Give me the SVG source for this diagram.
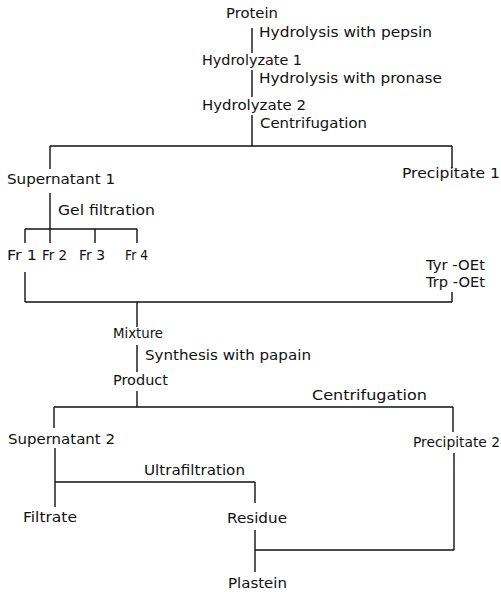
<svg xmlns="http://www.w3.org/2000/svg" width="501" height="592" viewBox="0 0 501 592">
<style>
text{font-family:"DejaVu Sans","Liberation Sans",sans-serif;font-size:14px;fill:#111}
.c line{stroke:#111;stroke-width:1.4;fill:none}
</style>
<rect width="501" height="592" fill="#fff"/>
<g class="c" id="connectors">
<line x1="252" y1="28" x2="252" y2="53"/>
<line x1="252" y1="70" x2="252" y2="97"/>
<line x1="252" y1="115" x2="252" y2="146"/>
<line x1="50" y1="146" x2="452" y2="146"/>
<line x1="50" y1="146" x2="50" y2="169"/>
<line x1="452" y1="146" x2="452" y2="168"/>
<line x1="50" y1="193" x2="50" y2="243"/>
<line x1="25" y1="229" x2="137" y2="229"/>
<line x1="25" y1="229" x2="25" y2="243"/>
<line x1="95" y1="229" x2="95" y2="243"/>
<line x1="137" y1="229" x2="137" y2="243"/>
<line x1="25" y1="272" x2="25" y2="302"/>
<line x1="25" y1="302" x2="452" y2="302"/>
<line x1="452" y1="292" x2="452" y2="302"/>
<line x1="137" y1="302" x2="137" y2="327"/>
<line x1="137" y1="345" x2="137" y2="372"/>
<line x1="137" y1="391" x2="137" y2="407"/>
<line x1="54" y1="407" x2="453" y2="407"/>
<line x1="54" y1="407" x2="54" y2="428"/>
<line x1="453" y1="407" x2="453" y2="432"/>
<line x1="55" y1="448" x2="55" y2="507"/>
<line x1="55" y1="482" x2="255" y2="482"/>
<line x1="255" y1="482" x2="255" y2="503"/>
<line x1="255" y1="530" x2="255" y2="572"/>
<line x1="255" y1="550" x2="454" y2="550"/>
<line x1="454" y1="453" x2="454" y2="550"/>
</g>
<g id="protein"><text x="226" y="18" textLength="52" lengthAdjust="spacingAndGlyphs">Protein</text></g>
<g id="step-pepsin"><text x="259" y="37" textLength="173" lengthAdjust="spacingAndGlyphs">Hydrolysis with pepsin</text></g>
<g id="hydrolyzate1"><text x="202" y="65" textLength="100" lengthAdjust="spacingAndGlyphs">Hydrolyzate 1</text></g>
<g id="step-pronase"><text x="259" y="83" textLength="183" lengthAdjust="spacingAndGlyphs">Hydrolysis with pronase</text></g>
<g id="hydrolyzate2"><text x="202" y="110" textLength="104" lengthAdjust="spacingAndGlyphs">Hydrolyzate 2</text></g>
<g id="step-centrifugation1"><text x="260" y="128" textLength="107" lengthAdjust="spacingAndGlyphs">Centrifugation</text></g>
<g id="supernatant1"><text x="7" y="184" textLength="108" lengthAdjust="spacingAndGlyphs">Supernatant 1</text></g>
<g id="precipitate1"><text x="402" y="178" textLength="98" lengthAdjust="spacingAndGlyphs">Precipitate 1</text></g>
<g id="step-gel"><text x="58" y="215" textLength="97" lengthAdjust="spacingAndGlyphs">Gel filtration</text></g>
<g id="fr1"><text x="7" y="260" textLength="30" lengthAdjust="spacingAndGlyphs">Fr 1</text></g>
<g id="fr2"><text x="42" y="260" textLength="25" lengthAdjust="spacingAndGlyphs">Fr 2</text></g>
<g id="fr3"><text x="79" y="260" textLength="26" lengthAdjust="spacingAndGlyphs">Fr 3</text></g>
<g id="fr4"><text x="125" y="260" textLength="23" lengthAdjust="spacingAndGlyphs">Fr 4</text></g>
<g id="esters"><text x="426" y="270" textLength="59" lengthAdjust="spacingAndGlyphs">Tyr -OEt</text><text x="426" y="287" textLength="59" lengthAdjust="spacingAndGlyphs">Trp -OEt</text></g>
<g id="mixture"><text x="113" y="338" textLength="50" lengthAdjust="spacingAndGlyphs">Mixture</text></g>
<g id="step-papain"><text x="145" y="360" textLength="166" lengthAdjust="spacingAndGlyphs">Synthesis with papain</text></g>
<g id="product"><text x="113" y="385" textLength="55" lengthAdjust="spacingAndGlyphs">Product</text></g>
<g id="step-centrifugation2"><text x="312" y="400" textLength="115" lengthAdjust="spacingAndGlyphs">Centrifugation</text></g>
<g id="supernatant2"><text x="8" y="444" textLength="107" lengthAdjust="spacingAndGlyphs">Supernatant 2</text></g>
<g id="precipitate2"><text x="413" y="447" textLength="87" lengthAdjust="spacingAndGlyphs">Precipitate 2</text></g>
<g id="step-ultrafiltration"><text x="144" y="475" textLength="101" lengthAdjust="spacingAndGlyphs">Ultrafiltration</text></g>
<g id="filtrate"><text x="23" y="522" textLength="54" lengthAdjust="spacingAndGlyphs">Filtrate</text></g>
<g id="residue"><text x="227" y="523" textLength="60" lengthAdjust="spacingAndGlyphs">Residue</text></g>
<g id="plastein"><text x="228" y="588" textLength="59" lengthAdjust="spacingAndGlyphs">Plastein</text></g>
</svg>
